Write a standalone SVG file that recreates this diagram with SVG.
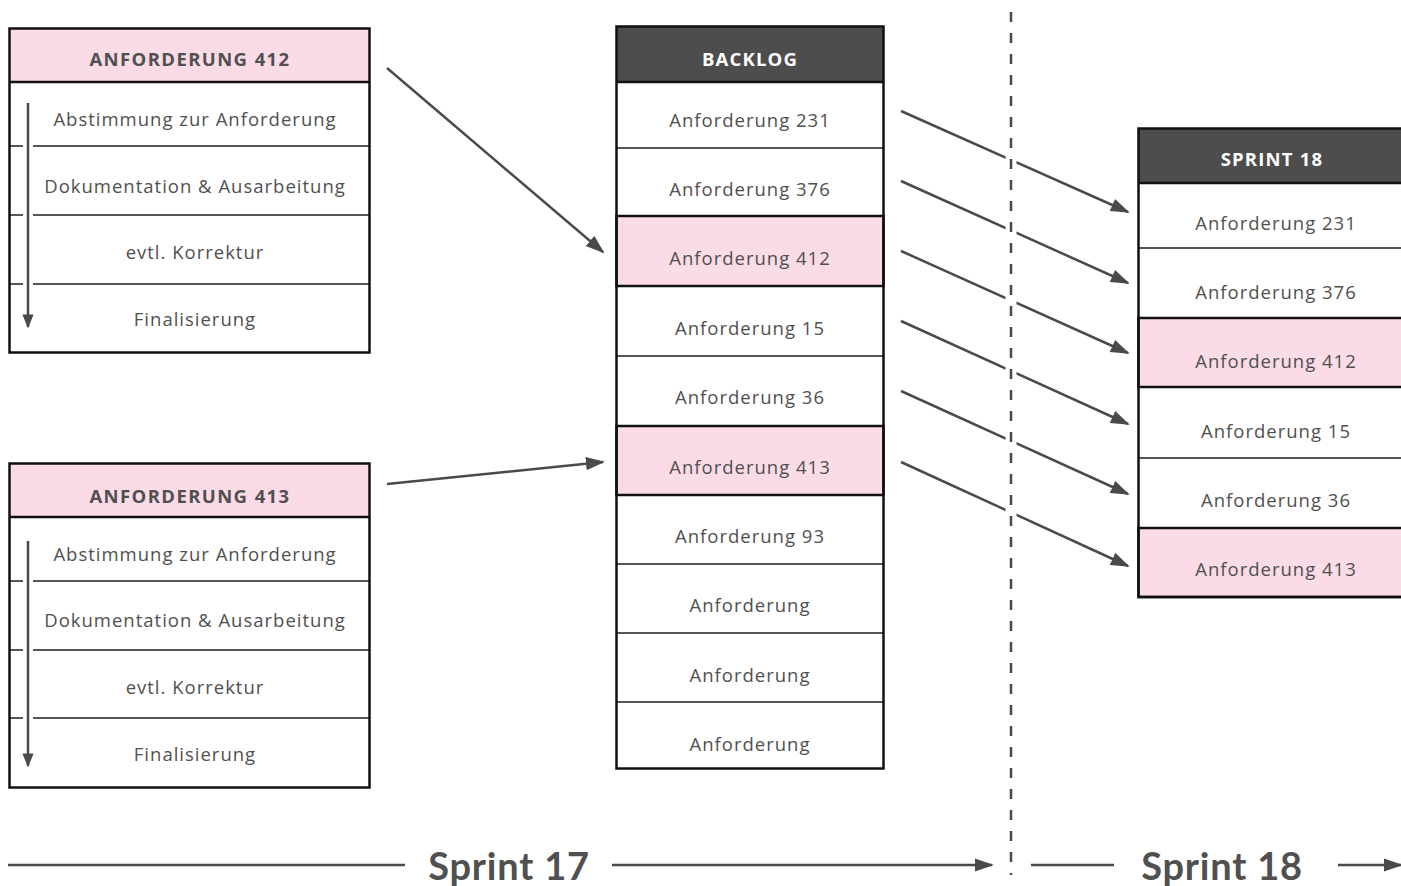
<svg xmlns="http://www.w3.org/2000/svg" width="1401" height="886" viewBox="0 0 1401 886">
<defs>
<marker id="ahb" viewBox="0 0 10 10" refX="9" refY="5" markerWidth="14" markerHeight="14" markerUnits="userSpaceOnUse" orient="auto">
<path d="M0,1 L10,5 L0,9 Z" fill="#4a4a4a"/>
</marker>
<marker id="ahs" viewBox="0 0 10 10" refX="9" refY="5" markerWidth="19" markerHeight="19" markerUnits="userSpaceOnUse" orient="auto">
<path d="M0,1.5 L10,5 L0,8.5 Z" fill="#4a4a4a"/>
</marker>
</defs>
<style>
text{font-family:"Open Sans","Liberation Sans",sans-serif;fill:#505050;text-anchor:middle}
.t{font-size:18.5px;letter-spacing:1px}
.h{font-size:18.5px;font-weight:bold;letter-spacing:1.4px}
.hw{font-size:18.5px;font-weight:bold;fill:#ffffff;letter-spacing:1.2px}
.big{font-family:Lato,"Open Sans",sans-serif;font-size:38px;font-weight:bold;letter-spacing:0.8px}
.pink{fill:#fadbe6}
.dark{fill:#4d4d4d}
.box{fill:none;stroke:#111;stroke-width:2.5}
.sep{stroke:#555;stroke-width:2}
.conn{stroke:#4a4a4a;stroke-width:2.5;fill:none}
</style>
<rect width="1401" height="886" fill="#ffffff"/>

<g id="anf412">
<rect x="9.5" y="28.5" width="360" height="53" class="pink"/>
<line x1="9" y1="146" x2="370" y2="146" class="sep"/>
<line x1="9" y1="215" x2="370" y2="215" class="sep"/>
<line x1="9" y1="284" x2="370" y2="284" class="sep"/>
<line x1="28" y1="103" x2="28" y2="318" stroke="#fff" stroke-width="10"/>
<line x1="28" y1="103" x2="28" y2="327" class="conn" marker-end="url(#ahb)"/>
<line x1="9" y1="82" x2="370" y2="82" stroke="#111" stroke-width="2.5"/>
<rect x="9.5" y="28.5" width="360" height="324" class="box"/>
<text x="190" y="66" class="h">ANFORDERUNG 412</text>
<text x="195" y="126" class="t">Abstimmung zur Anforderung</text>
<text x="195" y="193" class="t">Dokumentation &amp; Ausarbeitung</text>
<text x="195" y="259" class="t">evtl. Korrektur</text>
<text x="195" y="326" class="t">Finalisierung</text>
</g>

<g id="anf413">
<rect x="9.5" y="463.5" width="360" height="53" class="pink"/>
<line x1="9" y1="581" x2="370" y2="581" class="sep"/>
<line x1="9" y1="650" x2="370" y2="650" class="sep"/>
<line x1="9" y1="718" x2="370" y2="718" class="sep"/>
<line x1="28" y1="541" x2="28" y2="756" stroke="#fff" stroke-width="10"/>
<line x1="28" y1="541" x2="28" y2="766" class="conn" marker-end="url(#ahb)"/>
<line x1="9" y1="517" x2="370" y2="517" stroke="#111" stroke-width="2.5"/>
<rect x="9.5" y="463.5" width="360" height="324" class="box"/>
<text x="190" y="503" class="h">ANFORDERUNG 413</text>
<text x="195" y="561" class="t">Abstimmung zur Anforderung</text>
<text x="195" y="627" class="t">Dokumentation &amp; Ausarbeitung</text>
<text x="195" y="694" class="t">evtl. Korrektur</text>
<text x="195" y="761" class="t">Finalisierung</text>
</g>

<g id="backlog">
<rect x="616.5" y="26.5" width="267" height="55" class="dark"/>
<rect x="616.5" y="216" width="267" height="70" class="pink"/>
<rect x="616.5" y="426" width="267" height="69" class="pink"/>
<line x1="616" y1="148" x2="884" y2="148" class="sep"/>
<line x1="616" y1="356" x2="884" y2="356" class="sep"/>
<line x1="616" y1="564" x2="884" y2="564" class="sep"/>
<line x1="616" y1="633" x2="884" y2="633" class="sep"/>
<line x1="616" y1="702" x2="884" y2="702" class="sep"/>
<rect x="616.5" y="216" width="267" height="70" class="box"/>
<rect x="616.5" y="426" width="267" height="69" class="box"/>
<line x1="616" y1="82" x2="884" y2="82" stroke="#111" stroke-width="2.5"/>
<rect x="616.5" y="26.5" width="267" height="742" class="box"/>
<text x="750" y="66" class="hw">BACKLOG</text>
<text x="750" y="127" class="t">Anforderung 231</text>
<text x="750" y="196" class="t">Anforderung 376</text>
<text x="750" y="265" class="t">Anforderung 412</text>
<text x="750" y="335" class="t">Anforderung 15</text>
<text x="750" y="404" class="t">Anforderung 36</text>
<text x="750" y="474" class="t">Anforderung 413</text>
<text x="750" y="543" class="t">Anforderung 93</text>
<text x="750" y="612" class="t">Anforderung</text>
<text x="750" y="682" class="t">Anforderung</text>
<text x="750" y="751" class="t">Anforderung</text>
</g>

<g id="sprint18">
<rect x="1138.5" y="128.5" width="270" height="54" class="dark"/>
<rect x="1138.5" y="318" width="270" height="69" class="pink"/>
<rect x="1138.5" y="528" width="270" height="69" class="pink"/>
<line x1="1138" y1="248" x2="1401" y2="248" class="sep"/>
<line x1="1138" y1="458" x2="1401" y2="458" class="sep"/>
<rect x="1138.5" y="318" width="270" height="69" class="box"/>
<rect x="1138.5" y="528" width="270" height="69" class="box"/>
<line x1="1138" y1="183" x2="1401" y2="183" stroke="#111" stroke-width="2.5"/>
<rect x="1138.5" y="128.5" width="270" height="468.5" class="box"/>
<text x="1272" y="166" class="hw">SPRINT 18</text>
<text x="1276" y="230" class="t">Anforderung 231</text>
<text x="1276" y="299" class="t">Anforderung 376</text>
<text x="1276" y="368" class="t">Anforderung 412</text>
<text x="1276" y="438" class="t">Anforderung 15</text>
<text x="1276" y="507" class="t">Anforderung 36</text>
<text x="1276" y="576" class="t">Anforderung 413</text>
</g>

<g id="connectors">
<line x1="387" y1="68" x2="603" y2="252" class="conn" marker-end="url(#ahs)"/>
<line x1="387" y1="484" x2="603" y2="462" class="conn" marker-end="url(#ahs)"/>
<line x1="901" y1="111" x2="1128" y2="212" class="conn" marker-end="url(#ahs)"/>
<line x1="901" y1="181" x2="1128" y2="283" class="conn" marker-end="url(#ahs)"/>
<line x1="901" y1="251" x2="1128" y2="353" class="conn" marker-end="url(#ahs)"/>
<line x1="901" y1="321" x2="1128" y2="424" class="conn" marker-end="url(#ahs)"/>
<line x1="901" y1="391" x2="1128" y2="494" class="conn" marker-end="url(#ahs)"/>
<line x1="901" y1="462" x2="1128" y2="566" class="conn" marker-end="url(#ahs)"/>
<line x1="1011" y1="0" x2="1011" y2="886" stroke="#fff" stroke-width="11"/>
<line x1="1011" y1="12" x2="1011" y2="875" stroke="#4a4a4a" stroke-width="2.5" stroke-dasharray="10 11"/>
<line x1="8" y1="865" x2="405" y2="865" class="conn"/>
<line x1="612" y1="865" x2="992" y2="865" class="conn" marker-end="url(#ahs)"/>
<line x1="1031" y1="865" x2="1114" y2="865" class="conn"/>
<line x1="1338" y1="865" x2="1401" y2="865" class="conn" marker-end="url(#ahs)"/>
</g>
<text x="509" y="880" class="big">Sprint 17</text>
<text x="1222" y="880" class="big">Sprint 18</text>
</svg>
